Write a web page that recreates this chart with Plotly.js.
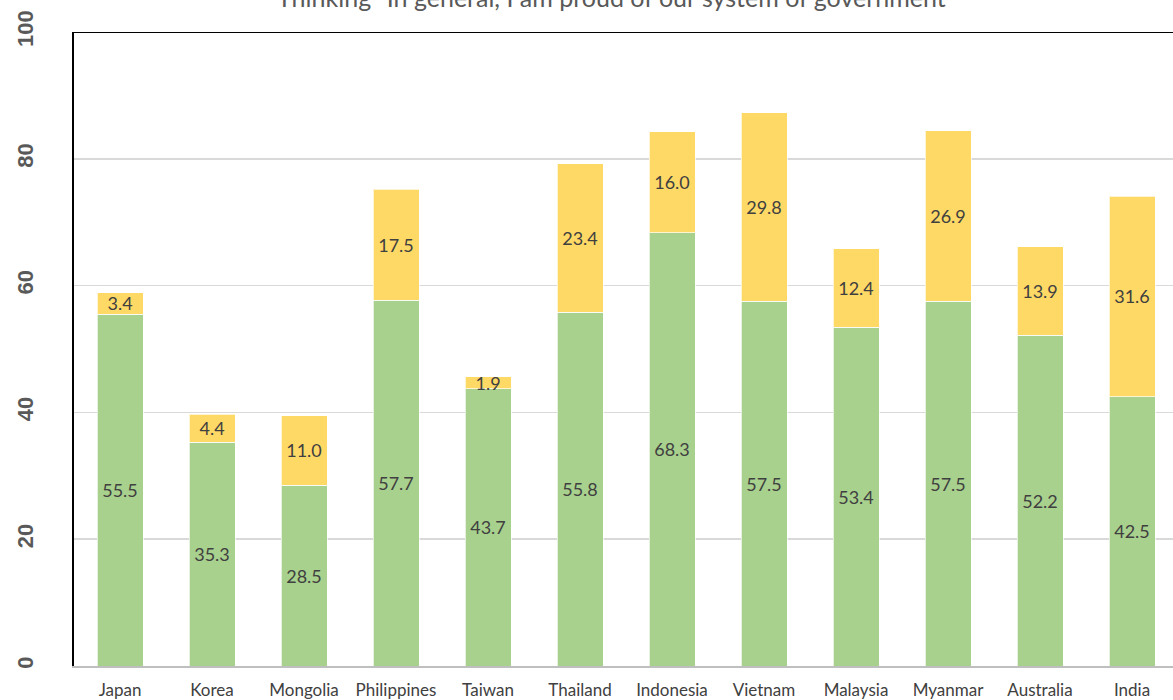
<!DOCTYPE html>
<html>
<head>
<meta charset="utf-8">
<script src="https://cdn.plot.ly/plotly-3.0.1.min.js"></script>
<style>html,body{margin:0;padding:0;overflow:hidden;background:#fff;}#chart{width:1180px;height:700px;}</style>
</head>
<body>
<div id="chart"></div>
<script>
const categories = ["Japan","Korea","Mongolia","Philippines","Taiwan","Thailand","Indonesia","Vietnam","Malaysia","Myanmar","Australia","India"];
const strongValues = [55.5,35.3,28.5,57.7,43.7,55.8,68.3,57.5,53.4,57.5,52.2,42.5];
const somewhatValues = [3.4,4.4,11.0,17.5,1.9,23.4,16.0,29.8,12.4,26.9,13.9,31.6];
const yTicks = [0,20,40,60,80,100];
const titleText = 'Thinking "In general, I am proud of our system of government"';

const W = 1180;
const labelFont = {family:"Lato, 'Open Sans', sans-serif", size:18, color:"#404040"};

const traces = [
  {type:"bar", x:categories, y:strongValues, name:"A",
   marker:{color:"#A9D18E", line:{color:"rgba(255,255,255,0.7)", width:1}},
   texttemplate:"%{y:.1f}", textposition:"inside", insidetextanchor:"middle",
   textangle:0, constraintext:"none", textfont:labelFont, hoverinfo:"none"},
  {type:"bar", x:categories, y:somewhatValues, name:"B",
   marker:{color:"#FFD966", line:{color:"rgba(255,255,255,0.7)", width:1}},
   texttemplate:"%{y:.1f}", textposition:"inside", insidetextanchor:"middle",
   textangle:0, constraintext:"none", textfont:labelFont, hoverinfo:"none"}
];

const layout = {
  width: W, height: 700,
  margin:{l:74, r:W-1178, t:32, b:34},
  barmode:"stack", bargap:0.5,
  showlegend:false,
  paper_bgcolor:"#fff", plot_bgcolor:"#fff",
  title:{text:titleText, x:616/W, xanchor:"center", xref:"container",
         y:1-7/700, yref:"container", yanchor:"bottom",
         font:{family:"Lato, 'Open Sans', sans-serif", size:25, color:"#595959"}},
  xaxis:{showline:true, linecolor:"#bfbfbf", linewidth:2, ticks:"", showgrid:false,
         ticklabelstandoff:8,
         tickfont:{family:"Lato, 'Open Sans', sans-serif", size:17, color:"#404040"}},
  yaxis:{range:[0,100], tickvals:yTicks, showline:true, linecolor:"#000", linewidth:2,
         gridcolor:"#d9d9d9", gridwidth:1.5, zeroline:false, ticks:"", tickangle:-90,
         ticklabelstandoff:30,
         tickfont:{family:"'Liberation Sans', Arial, sans-serif", size:22, color:"#595959", weight:"bold"}},
  shapes:[{type:"line", xref:"paper", yref:"y", x0:0, x1:1, y0:100, y1:100, line:{color:"#000", width:2}}]
};

Plotly.newPlot("chart", traces, layout, {displayModeBar:false, staticPlot:true});
</script>
</body>
</html>
